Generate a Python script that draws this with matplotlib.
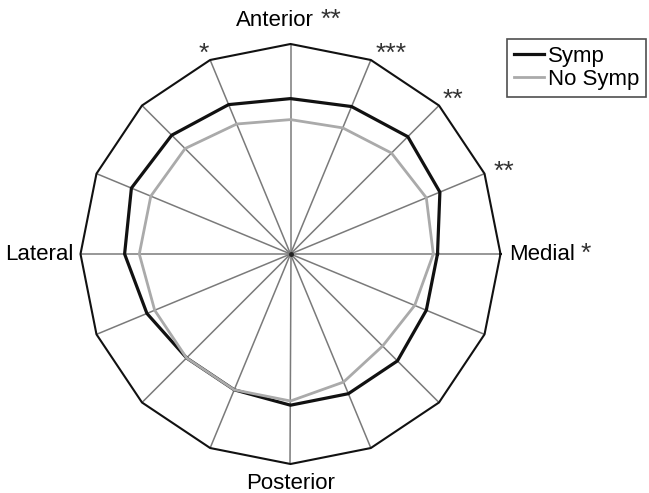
import numpy as np
import matplotlib
matplotlib.use("Agg")
import matplotlib.pyplot as plt

# 16 spokes, angles in degrees counterclockwise from "Medial" (right)
angles_deg = [0, 22.5, 45, 67.5, 90, 112.5, 135, 157.5,
              180, 202.5, 225, 247.5, 270, 292.5, 315, 337.5]
symp = [0.70, 0.77, 0.79, 0.76, 0.74, 0.77, 0.80, 0.82,
        0.79, 0.74, 0.70, 0.70, 0.72, 0.72, 0.72, 0.70]
no_symp = [0.68, 0.70, 0.68, 0.65, 0.64, 0.67, 0.71, 0.72,
           0.72, 0.70, 0.70, 0.70, 0.70, 0.66, 0.62, 0.64]
outer = 1.0

star_labels = ["**", "**", "***", "*"]
star_angles = [21.0, 43.5, 63.3, 113.4]
star_radii = [1.089, 1.066, 1.066, 1.038]

plt.rcParams['font.family'] = ['Liberation Sans', 'DejaVu Sans']

W, H = 649, 493
fig = plt.figure(figsize=(W / 100, H / 100), dpi=100)
cx, cy, R = 290.5, 254.0, 210.0
ax = fig.add_axes([(cx - R) / W, (H - cy - R) / H, 2 * R / W, 2 * R / H],
                  projection='polar')
ax.set_ylim(0, 1.0)
ax.grid(False)
ax.set_xticks([])
ax.set_yticks([])
ax.patch.set_alpha(0)
for s in ax.spines.values():
    s.set_visible(False)

th = np.deg2rad(angles_deg)
th_closed = np.append(th, th[0])

# spokes
for t in th:
    ax.plot([t, t], [0, outer], color='#7a7a7a', lw=1.1, solid_capstyle='butt',
            clip_on=False)
ax.plot([0], [0], marker='o', color='#222222', ms=2.5)

# outer frame
ax.plot(th_closed, [outer] * len(th_closed), color='#111111', lw=1.5, clip_on=False)

sym_line, = ax.plot(th_closed, np.append(symp, symp[0]), color='#111111', lw=2.3,
                    label='Symp')
no_line, = ax.plot(th_closed, np.append(no_symp, no_symp[0]), color='#aaaaaa', lw=2.0,
                   label='No Symp')

fs = 16
star_fs = 19


def star_after(txt, stars):
    ax.annotate(stars, xy=(1, 0.5), xycoords=txt, xytext=(4.5, 0),
                textcoords='offset points', ha='left', va='center',
                fontsize=star_fs, color='#333333')


# direction labels
t_med = ax.text(0, 1.040, "Medial", ha='left', va='center', fontsize=fs)
star_after(t_med, "*")
t_ant = ax.text(np.deg2rad(103.1), 1.144, "Anterior", ha='left', va='center', fontsize=fs)
star_after(t_ant, "**")
ax.text(np.pi, 1.031, "Lateral", ha='right', va='center', fontsize=fs)
ax.text(np.deg2rad(270), 1.094, "Posterior", ha='center', va='center', fontsize=fs)

for lab, a, r in zip(star_labels, star_angles, star_radii):
    ax.text(np.deg2rad(a), r, lab, ha='center', va='center', fontsize=star_fs,
            color='#333333')

leg = fig.legend(handles=[sym_line, no_line], loc='upper left',
                 bbox_to_anchor=(507 / W, 1 - 39 / H), fontsize=fs,
                 frameon=True, fancybox=False, edgecolor='#222222',
                 handlelength=1.35, handletextpad=0.18, borderpad=0.3,
                 labelspacing=0.1, borderaxespad=0)
leg.get_frame().set_linewidth(1.2)

fig.savefig('out.png', dpi=100)
